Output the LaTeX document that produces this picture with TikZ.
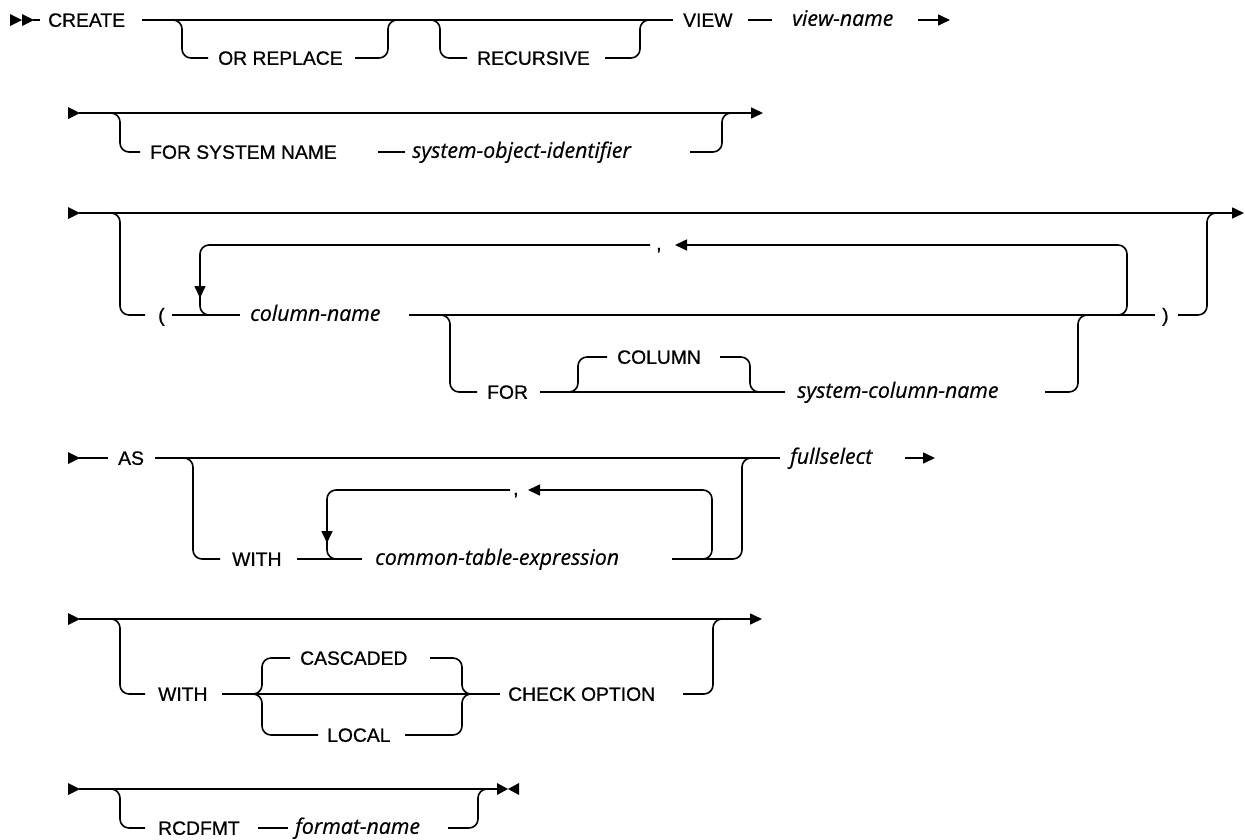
\documentclass[tikz,border=0pt]{standalone}
\usepackage{fontspec}
\setmainfont{Liberation Sans}[FakeBold=0.7]
\newfontfamily\itfam{Open Sans}[FakeBold=0.5]
\usetikzlibrary{arrows.meta}
\begin{document}
\begin{tikzpicture}[x=1pt,y=-1pt,
 rr/.style={line width=1.6pt},
 rc/.style={rr, rounded corners=9pt},
 kw/.style={anchor=base west, inner sep=0pt, font=\fontsize{19.3}{23}\selectfont},
 vr/.style={anchor=base west, inner sep=0pt, font=\fontsize{21.3}{25}\selectfont\itfam\itshape},
 tip/.style={-{Triangle[length=12pt,width=11pt]}}]
\useasboundingbox (0,0) rectangle (1245,839);
% Row 1
\fill (10,14)--(22,20)--(10,26)--cycle;
\fill (22,14)--(34,20)--(22,26)--cycle;
\draw[rr] (33,20)--(40,20);
\node[kw] (create) at (48,26.8) {CREATE};
\draw[rr] (142,20)--(673,20);
\draw[rc] (170,20)--(182,20)--(182,58)--(208,58);
\node[kw] (orrep) at (218,64.8) {OR REPLACE};
\draw[rc] (355,58)--(388,58)--(388,20)--(400,20);
\draw[rc] (428,20)--(440,20)--(440,58)--(467,58);
\node[kw] (recur) at (477,64.8) {RECURSIVE};
\draw[rc] (605,58)--(640,58)--(640,20)--(652,20);
\node[kw] (view) at (683,26.8) {VIEW};
\draw[rr] (748,20)--(772,20);
\node[vr] (vname) at (792,25.8) {view-name};
\draw[rr,tip] (918,20)--(950,20);
% Row 2
\fill (68,107)--(80,113)--(68,119)--cycle;
\draw[rr,tip] (79,113)--(763,113);
\draw[rc] (108,113)--(120,113)--(120,152)--(140,152);
\node[kw] (fsn) at (150,158.8) {FOR SYSTEM NAME};
\draw[rr] (378,152)--(405,152);
\node[vr] (soi) at (412,157.8) {system-object-identifier};
\draw[rc] (690,152)--(722,152)--(722,113)--(734,113);
% Row 3
\fill (68,207)--(80,213)--(68,219)--cycle;
\draw[rr,tip] (79,213)--(1244,213);
\draw[rc] (108,213)--(120,213)--(120,315)--(145,315);
\node[kw] (lpar) at (158,321.8) {(};
\draw[rr] (172,315)--(240,315);
\draw[rc] (650,245)--(200,245)--(200,315)--(215,315);
\draw[rr,tip] (200,280)--(200,298);
\node[kw] (comma1) at (656,250) {,};
\draw[rc,tip] (1110,315)--(1127,315)--(1127,245)--(675,245);
\node[vr] (colname) at (250,320.8) {column-name};
\draw[rr] (409,315)--(1155,315);
\draw[rc] (438,315)--(450,315)--(450,392)--(477,392);
\node[kw] (for) at (487,398.8) {FOR};
\draw[rr] (540,392)--(785,392);
\draw[rc] (566,392)--(578,392)--(578,357)--(607,357);
\node[kw] (column) at (617,363.8) {COLUMN};
\draw[rc] (720,357)--(750,357)--(750,392)--(762,392);
\node[vr] (scn) at (797,397.8) {system-column-name};
\draw[rc] (1045,392)--(1078,392)--(1078,315)--(1090,315);
\node[kw] (rpar) at (1162,321.8) {)};
\draw[rc] (1178,315)--(1207,315)--(1207,213)--(1220,213);
% Row 4
\fill (68,452)--(80,458)--(68,464)--cycle;
\draw[rr] (79,458)--(108,458);
\node[kw] (as) at (118,464.8) {AS};
\draw[rr] (155,458)--(780,458);
\draw[rc] (181,458)--(193,458)--(193,559)--(220,559);
\node[kw] (with1) at (232,565.8) {WITH};
\draw[rr] (297,559)--(362,559);
\draw[rc] (510,490)--(327,490)--(327,559)--(342,559);
\draw[rr,tip] (327,525)--(327,543);
\node[kw] (comma2) at (513,495) {,};
\draw[rc,tip] (700,559)--(712,559)--(712,490)--(528,490);
\node[vr] (cte) at (375,564.8) {common-table-expression};
\draw[rc] (672,559)--(742,559)--(742,458)--(754,458);
\node[vr] (fsel) at (790,463.8) {fullselect};
\draw[rr,tip] (905,458)--(935,458);
% Row 5
\fill (68,613)--(80,619)--(68,625)--cycle;
\draw[rr,tip] (79,619)--(762,619);
\draw[rc] (108,619)--(120,619)--(120,694)--(145,694);
\node[kw] (with2) at (158,700.8) {WITH};
\draw[rr] (222,694)--(500,694);
\draw[rc] (250,694)--(262,694)--(262,658)--(290,658);
\draw[rc] (250,694)--(262,694)--(262,735)--(318,735);
\node[kw] (casc) at (300,664.8) {CASCADED};
\node[kw] (local) at (327,741.8) {LOCAL};
\draw[rc] (430,658)--(462,658)--(462,694)--(475,694);
\draw[rc] (405,735)--(462,735)--(462,694)--(475,694);
\node[kw] (chk) at (508,700.8) {CHECK OPTION};
\draw[rc] (683,694)--(713,694)--(713,619)--(725,619);
% Row 6
\fill (68,783)--(80,789)--(68,795)--cycle;
\draw[rr] (79,789)--(497,789);
\draw[rc] (108,789)--(120,789)--(120,828)--(145,828);
\node[kw] (rcd) at (158,834.8) {RCDFMT};
\draw[rr] (258,828)--(288,828);
\node[vr] (fmt) at (295,833.8) {format-name};
\draw[rc] (448,828)--(478,828)--(478,789)--(490,789);
\fill (497,783)--(508,789)--(497,795)--cycle;
\fill (519,783)--(508,789)--(519,795)--cycle;
\end{tikzpicture}
\end{document}
